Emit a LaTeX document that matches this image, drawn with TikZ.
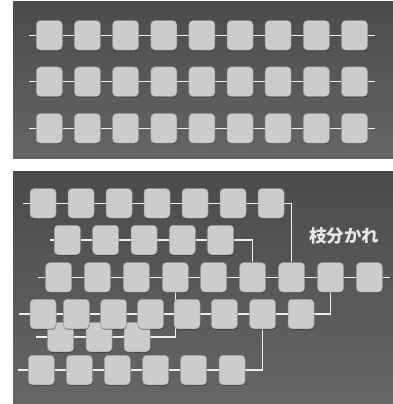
\documentclass[tikz,border=0pt]{standalone}
\usepackage{fontspec}
\newfontfamily\cjk{Noto Sans CJK JP}
\usetikzlibrary{shadows}
\definecolor{boxc}{HTML}{CBCCCE}
\definecolor{boxedge}{HTML}{9C9C9E}
\definecolor{wirec}{HTML}{EEEEEE}
\definecolor{paneltop}{HTML}{4B4B4B}
\definecolor{panelbot}{HTML}{666666}
\definecolor{textc}{HTML}{E6E6E6}
\pgfdeclarelayer{panel}
\pgfdeclarelayer{wires}
\pgfsetlayers{panel,wires,main}
\begin{document}
\begin{tikzpicture}[x=1pt,y=-1pt,
  box/.style={rectangle, rounded corners=4pt, minimum width=26pt, minimum height=29.5pt,
    inner sep=0pt, fill=boxc, draw=boxedge, line width=0.5pt,
    drop shadow={shadow xshift=0.3pt, shadow yshift=-1pt, opacity=0.35, fill=black}},
  wire/.style={draw=wirec, line width=1.4pt},
  paneltxt/.style={text=textc, font=\cjk\bfseries\fontsize{17.5}{19}\selectfont, inner sep=0pt}]
\useasboundingbox (0,0) rectangle (393,404);
\begin{pgfonlayer}{panel}
  \shade[top color=paneltop, bottom color=panelbot] (13,2) rectangle (393,158);
  \shade[top color=paneltop, bottom color=panelbot] (13,171) rectangle (393,404);
\end{pgfonlayer}

% ---------- top panel ----------
\foreach \r/\y in {1/35.3,2/81.7,3/128.3} {
  \coordinate (ts\r) at (29,\y);
  \coordinate (te\r) at (374.7,\y);
  \foreach \i in {1,...,9} \node[box] (t\r-\i) at ({49.3+38.15*(\i-1)},\y) {};
  \begin{pgfonlayer}{wires}
    \draw[wire] (ts\r) -- (t\r-1);
    \foreach \i [evaluate=\i as \j using int(\i+1)] in {1,...,8} \draw[wire] (t\r-\i) -- (t\r-\j);
    \draw[wire] (t\r-9) -- (te\r);
  \end{pgfonlayer}
}

% ---------- bottom panel ----------
\coordinate (as) at (22.7,203.3);
\coordinate (bs) at (50,240);
\coordinate (cs) at (37.7,277.3);
\coordinate (ce) at (389.7,277.3);
\coordinate (ds) at (19,314);
\coordinate (es) at (36,337);
\coordinate (fs) at (18.3,370);

\foreach \x [count=\i] in {43,81,119,157,195,233,271} \node[box] (a\i) at (\x,203.3) {};
\foreach \x [count=\i] in {67.3,105.7,144,182.3,220.7} \node[box] (b\i) at (\x,240) {};
\foreach \x [count=\i] in {58.7,97.3,136.3,175.3,213.7,252.7,291.7,330.7,369.3} \node[box] (c\i) at (\x,277.3) {};
\foreach \x [count=\i] in {60.7,99,137} \node[box] (e\i) at (\x,337) {};
\foreach \x [count=\i] in {43,76.3,113.7,150.7,187,224.3,262.7,301} \node[box] (d\i) at (\x,314) {};
\foreach \x [count=\i] in {41.3,79.3,117.3,155.7,193.7,232} \node[box] (f\i) at (\x,370) {};

\begin{pgfonlayer}{wires}
  \draw[wire] (as) -- (a1);
  \foreach \i [evaluate=\i as \j using int(\i+1)] in {1,...,6} \draw[wire] (a\i) -- (a\j);
  \draw[wire] (bs) -- (b1);
  \foreach \i [evaluate=\i as \j using int(\i+1)] in {1,...,4} \draw[wire] (b\i) -- (b\j);
  \draw[wire] (cs) -- (c1);
  \foreach \i [evaluate=\i as \j using int(\i+1)] in {1,...,8} \draw[wire] (c\i) -- (c\j);
  \draw[wire] (c9) -- (ce);
  \draw[wire] (ds) -- (d1);
  \foreach \i [evaluate=\i as \j using int(\i+1)] in {1,...,7} \draw[wire] (d\i) -- (d\j);
  \draw[wire] (es) -- (e1);
  \foreach \i [evaluate=\i as \j using int(\i+1)] in {1,...,2} \draw[wire] (e\i) -- (e\j);
  \draw[wire] (fs) -- (f1);
  \foreach \i [evaluate=\i as \j using int(\i+1)] in {1,...,5} \draw[wire] (f\i) -- (f\j);
  % branches
  \draw[wire] (a7) -| (c7);
  \draw[wire] (b5) -| (c6);
  \draw[wire] (d8) -| (c8);
  \draw[wire] (e3) -| (c4);
  \draw[wire] (f6) -| (d7);
\end{pgfonlayer}

\node[paneltxt] (lbl) at (344,236) {枝分かれ};
\end{tikzpicture}
\end{document}
